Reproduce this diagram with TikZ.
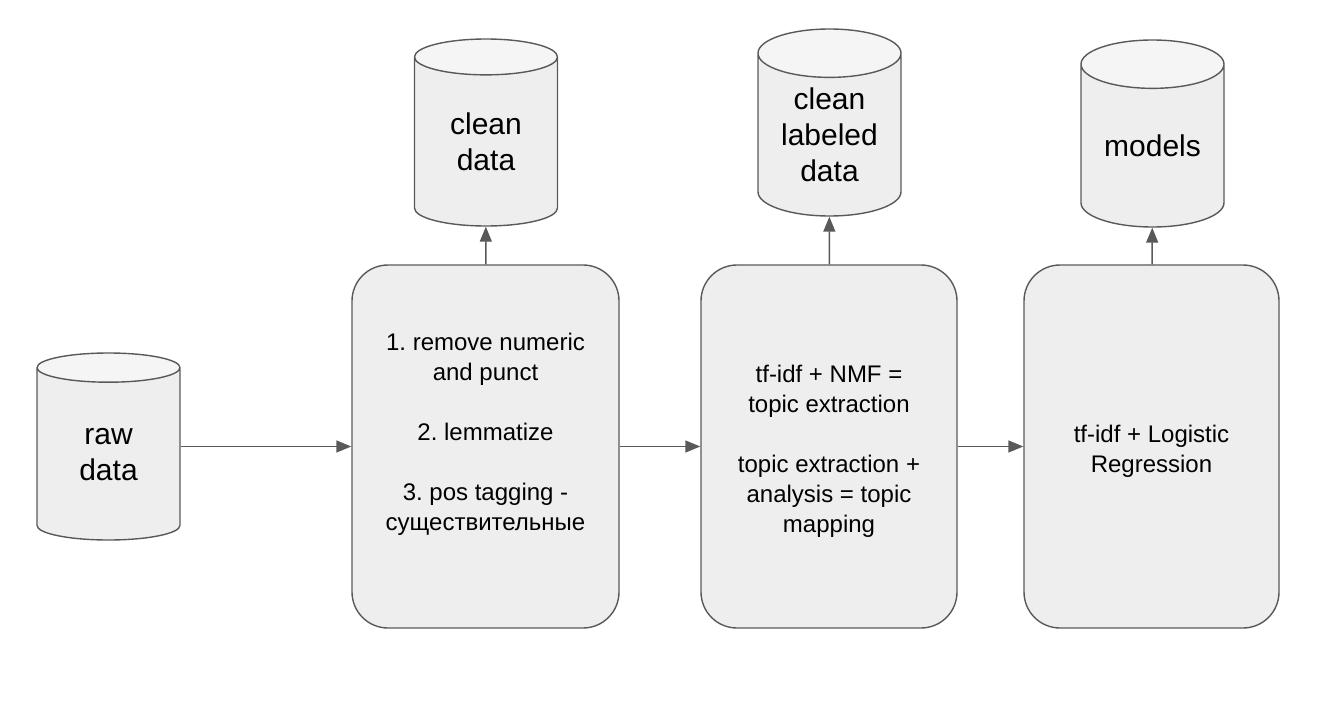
\documentclass[tikz,border=0pt]{standalone}
\usepackage{fontspec}
\setmainfont{Liberation Sans}
\frenchspacing
\usetikzlibrary{arrows.meta,shapes.geometric}
\definecolor{lineGray}{HTML}{595959}
\definecolor{bodyGray}{HTML}{EEEEEE}
\definecolor{capGray}{HTML}{F5F5F5}
\newcommand{\gapTop}{\rule{0pt}{26.5pt}}

\begin{document}
\begin{tikzpicture}[x=1pt,y=-1pt,
                    dbND/.style={cylinder,
                                 shape border rotate=90,
                                 anchor=shape center,
                                 draw=lineGray,
                                 line width=1.4pt,
                                 cylinder uses custom fill,
                                 cylinder body fill=bodyGray,
                                 cylinder end fill=capGray,
                                 aspect=0.5,
                                 minimum width=143pt,
                                 minimum height=187pt,
                                 inner sep=0pt,
                                 align=center,
                                 font=\fontsize{30}{36}\selectfont},
                    stepND/.style={rectangle,
                                   rounded corners=36pt,
                                   draw=lineGray,
                                   fill=bodyGray,
                                   line width=1.4pt,
                                   minimum height=363pt,
                                   align=center,
                                   font=\fontsize{24}{30}\selectfont},
                    flow/.style={-{Triangle[length=15pt,width=12pt]},
                                 draw=lineGray,
                                 line width=1.4pt}]
            \useasboundingbox (0,0) rectangle (1328,725);
            \node[dbND](raw)     at (108.5,446.5)  {raw\\data};
            \node[dbND](clean)   at (486,132.5)    {clean\\data};
            \node[dbND](labeled) at (829.5,122.5)  {clean\\labeled\\data};
            \node[dbND](models)  at (1152.5,133.5) {models};
            \node[stepND, minimum width=267pt](prep) at (485.5,446.5)
                {\gapTop 1. remove numeric\\and punct\\[30pt]2. lemmatize\\[30pt]3. pos tagging -\\существительные\\ \strut};
            \node[stepND, minimum width=256pt](topics) at (829,446.5)
                {\gapTop tf-idf + NMF =\\topic extraction\\[30pt]topic extraction +\\analysis = topic\\mapping};
            \node[stepND, minimum width=255pt](clf) at (1151.5,446.5)
                {\gapTop tf-idf + Logistic\\Regression};
            \path
                (raw.east |- prep.west) edge [flow] (prep.west)
                (prep.east)   edge [flow] (topics.west)
                (topics.east) edge [flow] (clf.west)
                (prep)        edge [flow] (clean)
                (topics)      edge [flow] (labeled)
                (clf)         edge [flow] (models)
                ;
        \end{tikzpicture}
\end{document}
